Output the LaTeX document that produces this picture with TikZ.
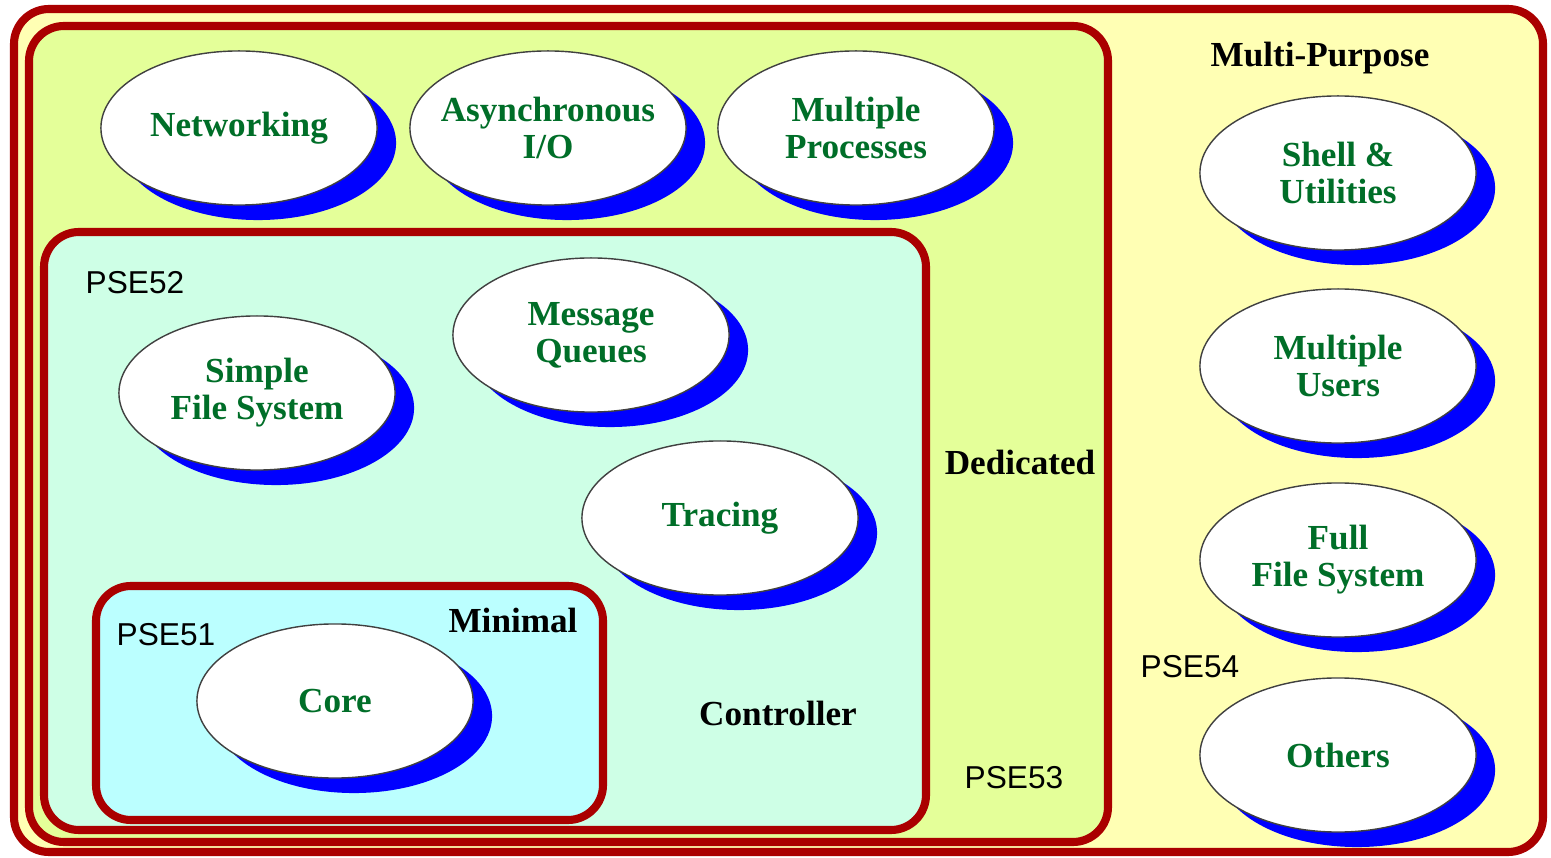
\documentclass[tikz,border=0pt]{standalone}
\usepackage{fontspec}
\setmainfont{Liberation Serif}
\setsansfont{Liberation Sans}
\usetikzlibrary{positioning,shapes.geometric,shadows}
\definecolor{boxred}{RGB}{170,0,0}
\definecolor{multiyellow}{RGB}{255,255,180}
\definecolor{dedicatedgreen}{RGB}{228,255,153}
\definecolor{controllermint}{RGB}{206,255,230}
\definecolor{minimalcyan}{RGB}{187,255,255}
\definecolor{featuregreen}{RGB}{0,110,40}

\begin{document}
\begin{tikzpicture}[x=0.01cm, y=-0.01cm,
        profilebox/.style={draw=boxred, line width=2.3pt, rounded corners=3.5mm},
        featurenode/.style={ellipse, draw=black!75, thin, fill=white, minimum width=2.76cm, minimum height=1.54cm, inner xsep=-3mm, inner ysep=0pt, align=center, text=featuregreen, font=\fontsize{10}{10.5}\selectfont\bfseries, drop shadow={shadow xshift=0.19cm, shadow yshift=-0.15cm, fill=blue, opacity=1}},
        levelnode/.style={text=black, font=\fontsize{10}{12}\selectfont\bfseries},
        psenode/.style={text=black, font=\sffamily\fontsize{9}{11}\selectfont},
        ]
        \useasboundingbox (0,0) rectangle (1551,858);
        %Boxes
        \draw[profilebox, fill=multiyellow] (14,9) rectangle (1543,852);
        \draw[profilebox, fill=dedicatedgreen] (29,26) rectangle (1108,842);
        \draw[profilebox, fill=controllermint] (44,232) rectangle (926,830);
        \draw[profilebox, fill=minimalcyan] (96,586) rectangle (603,820);

        %Nodes
        \node[featurenode] (net) at (239,128) {Networking};
        \node[featurenode] (aio) at (548,128) {Asynchronous\\I/O};
        \node[featurenode] (mproc) at (856,128) {Multiple\\Processes};
        \node[featurenode] (mq) at (591,335) {Message\\Queues};
        \node[featurenode] (sfs) at (257,393) {Simple\\File System};
        \node[featurenode] (trace) at (720,518) {Tracing};
        \node[featurenode] (core) at (335,701) {Core};
        \node[featurenode] (shell) at (1338,173) {Shell \&\\Utilities};
        \node[featurenode] (musers) at (1338,366) {Multiple\\Users};
        \node[featurenode] (ffs) at (1338,560) {Full\\File System};
        \node[featurenode] (others) at (1338,755) {Others};

        %Labels
        \node[levelnode] (multi) at (1320,58) {Multi-Purpose};
        \node[levelnode] (dedicated) at (1020,462) {Dedicated};
        \node[levelnode] (controller) at (778,713) {Controller};
        \node[levelnode] (minimal) at (513,620) {Minimal};
        \node[psenode] (pse52) at (135,283) {PSE52};
        \node[psenode] (pse51) at (166,635) {PSE51};
        \node[psenode] (pse53) at (1014,778) {PSE53};
        \node[psenode] (pse54) at (1190,667) {PSE54};
    \end{tikzpicture}
\end{document}
